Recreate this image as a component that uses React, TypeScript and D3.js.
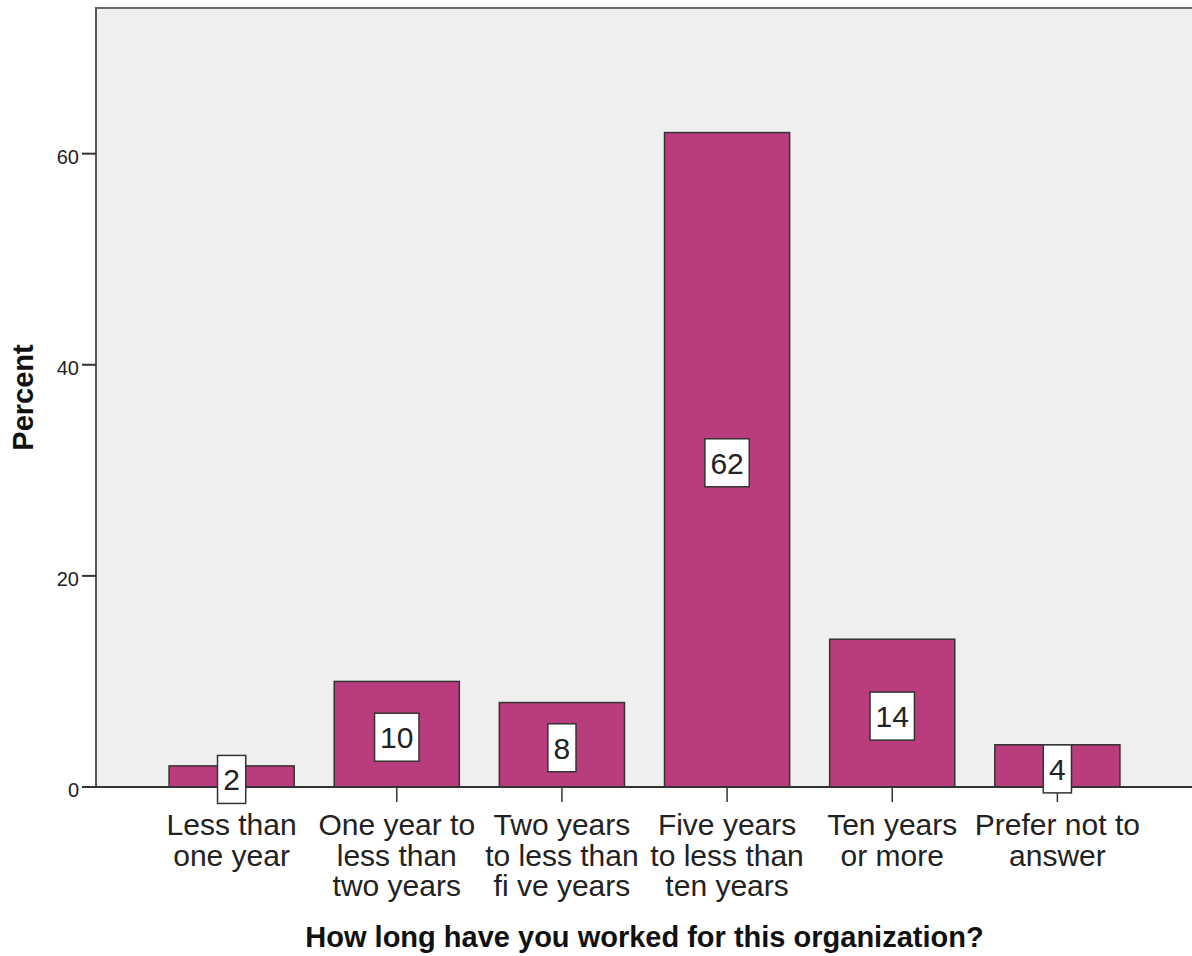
import React from "react";
import * as d3 from "d3";

const categories: string[][] = [
  ["Less than", "one year"],
  ["One year to", "less than", "two years"],
  ["Two years", "to less than", "fi ve years"],
  ["Five years", "to less than", "ten years"],
  ["Ten years", "or more"],
  ["Prefer not to", "answer"],
];
const percents: number[] = [2, 10, 8, 62, 14, 4];
const yTicks: number[] = [0, 20, 40, 60];
const yTitle = "Percent";
const xTitle = "How long have you worked for this organization?";

const W = 1192;
const H = 956;
const plot = { left: 96, right: 1193, top: 8, bottom: 787 };
const yMax = 73.8;

const FONT = "'Liberation Sans', Arial, sans-serif";

export default function App() {
  const keys = categories.map((c) => c.join(" "));
  const x = d3
    .scaleBand<string>()
    .domain(keys)
    .range([plot.left, plot.right])
    .paddingInner(0.2424)
    .paddingOuter(0.4424);
  const y = d3.scaleLinear().domain([0, yMax]).range([plot.bottom, plot.top]);

  const charW = 16.2;
  return (
    <svg
      width={W}
      height={H}
      style={{ position: "absolute", left: 0, top: 0, display: "block", background: "#fff" }}
    >
      {/* plot background */}
      <rect
        x={plot.left}
        y={plot.top}
        width={plot.right - plot.left}
        height={plot.bottom - plot.top}
        fill="#EFEFEF"
      />
      {/* frame */}
      <line x1={plot.left} x2={plot.right} y1={plot.top} y2={plot.top} stroke="#6a6a6a" strokeWidth={2} />
      <line x1={plot.left} x2={plot.left} y1={plot.top - 1} y2={plot.bottom} stroke="#555" strokeWidth={2} />

      {/* bars */}
      {percents.map((v, i) => (
        <rect
          key={"b" + i}
          x={x(keys[i])!}
          y={y(v)}
          width={x.bandwidth()}
          height={y(0) - y(v)}
          fill="#B93D7C"
          stroke="#333"
          strokeWidth={1.5}
        />
      ))}

      {/* x axis */}
      <line x1={82} x2={plot.right} y1={plot.bottom} y2={plot.bottom} stroke="#333" strokeWidth={2} />
      {keys.map((k, i) => {
        const cx = x(k)! + x.bandwidth() / 2;
        return (
          <g key={"t" + i}>
            <line x1={cx} x2={cx} y1={plot.bottom} y2={plot.bottom + 15} stroke="#333" strokeWidth={1.5} />
            <text
              x={cx}
              y={plot.bottom + 48}
              textAnchor="middle"
              fontFamily={FONT}
              fontSize={30}
              fill="#222"
            >
              {categories[i].map((line, j) => (
                <tspan key={j} x={cx} dy={j === 0 ? 0 : 30.5}>
                  {line}
                </tspan>
              ))}
            </text>
          </g>
        );
      })}

      {/* value labels */}
      {percents.map((v, i) => {
        const cx = x(keys[i])! + x.bandwidth() / 2;
        const cy = y(v / 2) + 3;
        const label = String(v);
        const bw = label.length * charW + 12;
        const bh = 48;
        return (
          <g key={"v" + i}>
            <rect
              x={cx - bw / 2}
              y={cy - bh / 2}
              width={bw}
              height={bh}
              fill="#fff"
              stroke="#333"
              strokeWidth={1.5}
            />
            <text
              x={cx}
              y={cy + 11}
              textAnchor="middle"
              fontFamily={FONT}
              fontSize={30}
              fill="#222"
            >
              {label}
            </text>
          </g>
        );
      })}

      {/* y axis ticks */}
      {yTicks.map((t) => (
        <g key={"y" + t}>
          <line x1={82} x2={plot.left} y1={y(t)} y2={y(t)} stroke="#333" strokeWidth={2} />
          <text
            x={79}
            y={y(t) + 10}
            textAnchor="end"
            fontFamily={FONT}
            fontSize={20}
            fill="#222"
          >
            {t}
          </text>
        </g>
      ))}

      {/* axis titles */}
      <text
        transform={`translate(33, ${(plot.top + plot.bottom) / 2}) rotate(-90)`}
        textAnchor="middle"
        fontFamily={FONT}
        fontWeight="bold"
        fontSize={29}
        fill="#111"
      >
        {yTitle}
      </text>
      <text
        x={(plot.left + plot.right) / 2}
        y={947}
        textAnchor="middle"
        fontFamily={FONT}
        fontWeight="bold"
        fontSize={29}
        fill="#111"
      >
        {xTitle}
      </text>
    </svg>
  );
}
